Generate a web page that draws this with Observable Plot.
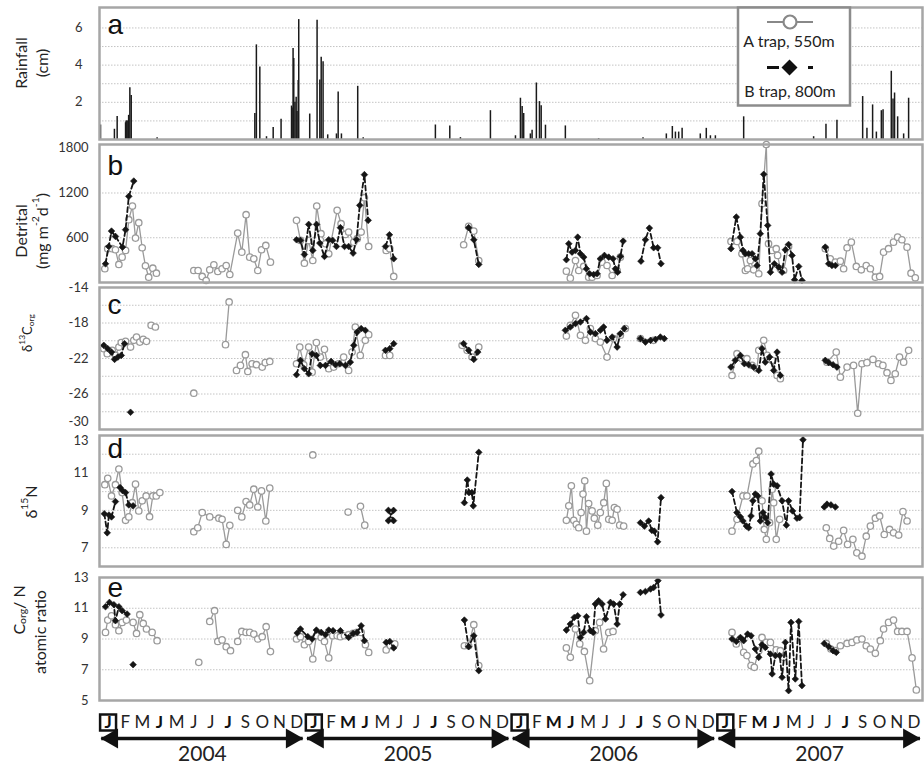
<!DOCTYPE html>
<html><head><meta charset="utf-8">
<script src="https://cdn.jsdelivr.net/npm/d3@7"></script>
<script src="https://cdn.jsdelivr.net/npm/@observablehq/plot@0.6"></script>
<style>
body{margin:0;background:#fff;}
#chart{position:relative;width:924px;height:771px;font-family:Lato,"Open Sans",sans-serif;}
#chart svg{position:absolute;left:0;}
</style></head><body><div id="chart"></div>
<script>
// x values are months since 1 Jan 2004 (0 … 48); null = gap in a series
const rainfall = [
[0.06,0.78],[0.87,0.55],[1.03,1.24],[1.52,0.9],[1.55,1.0],[1.60,1.0],[1.66,1.0],[1.70,1.3],[1.77,2.78],[1.85,2.37],[3.36,0.1],
[9.06,1.4],[9.15,5.09],[9.35,3.9],[9.74,0.15],[10.13,0.64],[10.59,1.09],[11.2,1.8],[11.23,1.7],[11.29,4.9],[11.33,4.36],[11.4,2.0],[11.47,2.27],[11.52,1.5],[11.59,3.18],[11.62,6.45],
[12.26,1.37],[12.69,6.42],[12.85,3.2],[12.93,4.42],[13.04,4.18],[13.31,0.25],[13.82,0.3],[13.92,2.55],[14.11,0.3],[15.06,2.86],[15.38,0.1],
[19.59,0.78],[20.43,0.73],[21.05,0.1],[22.80,1.55],[24.26,0.2],[24.55,2.22],[24.65,1.77],[24.74,1.4],[25.13,0.3],[25.23,0.5],[25.48,3.04],[25.66,2.04],[25.76,1.82],[26.01,0.77],[27.17,0.73],
[29.11,0.05],[31.70,0.1],[33.06,0.3],[33.41,0.7],[33.59,0.4],[33.78,0.4],[33.98,0.6],[35.04,0.3],[35.39,0.6],[35.63,0.2],[35.92,0.2],
[37.57,1.22],[41.65,0.15],[42.37,0.82],[43.01,1.04],[44.51,2.31],[44.76,0.6],[45.09,1.86],[45.31,0.4],[45.60,1.55],[45.70,1.6],[46.18,3.67],[46.28,2.18],[46.37,2.5],[46.55,1.22],[46.90,0.3],[47.19,2.22]
];

const detritalA = [
[0.31,184],[0.48,453],[0.74,453],[0.93,439],[1.13,242],[1.32,340],[1.52,430],[1.71,842],[1.92,1025],[2.10,595],[2.29,802],[2.49,466],[2.68,224],[2.87,71],[3.11,192],[3.32,125],null,
[5.50,161],[5.75,161],[5.99,81],[6.22,27],[6.43,170],[6.67,238],[6.90,148],[7.15,184],[7.39,228],[7.60,107],[8.06,662],[8.30,407],[8.55,909],[8.76,340],[9.00,318],[9.23,161],[9.45,439],[9.70,497],[9.97,273],null,
[11.49,833],[11.72,564],[11.95,259],[12.20,564],[12.44,295],[12.67,1025],[12.92,654],[13.18,520],[13.37,385],[13.86,967],[14.09,788],[14.34,645],[14.53,676],[14.83,541],[15.03,587],[15.26,676],[15.45,1137],[15.70,483],null,
[16.72,430],[16.93,453],[17.16,81],null,
[21.24,506],[21.53,752],[21.83,689],[22.12,295],null,
[27.23,152],[27.46,58],[27.76,295],[27.95,161],[28.24,215],[28.53,71],[28.73,71],[29.02,94],[29.31,273],[29.60,228],[29.90,94],[30.19,161],[30.38,340],null,
[36.83,550],[37.18,550],[37.47,385],[37.67,161],[37.80,184],[37.96,295],[38.15,170],[38.45,117],[38.64,1057],[38.89,1850],[39.02,520],[39.22,430],[39.47,453],[39.55,363],[39.71,184],[39.90,161],[40.19,483],null,
[42.33,453],[42.62,318],[42.92,273],[43.21,286],[43.40,184],[43.60,466],[43.85,541],[44.14,215],[44.43,170],[44.72,228],[44.96,184],[45.25,71],[45.50,81],[45.73,407],[46.02,453],[46.31,541],[46.55,608],[46.80,573],[47.10,474],[47.33,125],[47.58,63]
];
const detritalB = [
[0.35,251],[0.54,483],[0.70,689],[0.93,618],[1.34,474],[1.52,708],[1.71,1155],[2.00,1360],null,
[11.49,573],[11.72,564],[11.95,376],[12.20,779],[12.44,430],[12.66,779],[12.85,528],[13.12,349],[13.37,573],[13.60,564],[13.82,483],[14.05,735],[14.29,483],[14.53,483],[14.79,394],[14.99,577],[15.18,1034],[15.45,1446],[15.67,833],null,
[16.68,483],[16.91,640],[17.16,318],null,
[21.53,735],[21.83,573],[22.12,242],null,
[27.23,305],[27.37,520],[27.56,407],[27.76,430],[27.89,608],[28.05,385],[28.24,340],[28.40,184],[28.59,117],[28.82,107],[29.02,117],[29.21,318],[29.45,363],[29.70,340],[29.95,318],[30.09,184],[30.22,138],[30.38,349],[30.54,555],null,
[31.58,286],[31.84,573],[32.07,729],[32.32,466],[32.55,466],[32.75,251],null,
[36.83,453],[37.14,877],[37.38,608],[37.53,430],[37.67,385],[37.86,385],[38.06,385],[38.25,318],[38.35,228],[38.54,654],[38.74,1450],[38.97,765],[39.13,138],[39.36,251],[39.61,206],[39.81,138],[40.00,439],[40.19,510],[40.39,363],[40.54,36],[40.78,215],[40.97,27],null,
[42.33,474],[42.53,251],[42.72,228],[42.92,228]
];

const d13cA = [
[0.25,-20.89],[0.45,-21.46],[0.74,-21.08],[0.93,-21.65],[1.13,-20.71],[1.27,-20.21],[1.52,-20.07],[1.81,-20.71],[2.0,-19.95],[2.16,-19.58],[2.35,-20.15],[2.55,-19.84],[2.74,-20.07],null,
[3.01,-18.26],[3.26,-18.45],null,[5.50,-25.91],null,[7.35,-20.44],[7.56,-15.63],null,
[7.99,-23.34],[8.22,-22.78],[8.51,-21.57],[8.65,-23.46],[8.90,-22.59],[9.15,-22.70],[9.49,-22.97],[9.67,-22.47],[9.93,-22.33],null,
[11.49,-22.59],[11.68,-20.71],[11.91,-22.70],[12.20,-20.71],[12.40,-23.54],[12.65,-20.21],[12.88,-21.84],[13.12,-20.97],[13.37,-23.15],[13.66,-22.97],[13.95,-22.59],[14.24,-21.84],[14.53,-23.34],[14.73,-21.28],[14.92,-18.45],[15.21,-21.65],[15.50,-19.95],[15.70,-19.31],null,
[16.68,-21.65],[16.93,-21.65],null,
[21.15,-20.52],[21.44,-21.08],[21.73,-21.84],[22.12,-20.71],null,
[27.23,-19.47],[27.46,-18.26],[27.76,-17.13],[28.05,-19.39],[28.34,-19.95],[28.63,-18.63],[28.92,-19.76],[29.21,-20.15],[29.60,-21.84],[29.99,-19.76],[30.38,-19.39],[30.67,-18.63],null,
[31.55,-19.76],[32.32,-19.95],null,
[36.89,-23.91],[37.18,-21.46],[37.47,-22.02],[37.76,-22.02],[38.06,-22.78],[38.35,-23.15],[38.45,-21.08],[38.74,-19.95],[38.94,-21.65],[39.23,-22.21],[39.52,-23.91],[39.71,-24.28],null,
[42.43,-22.41],[42.97,-21.28],[43.21,-24.10],[43.60,-22.97],[43.98,-22.78],[44.22,-28.17],[44.47,-22.59],[44.76,-22.47],[45.11,-22.10],[45.44,-22.59],[45.69,-22.78],[45.93,-23.60],[46.16,-24.47],[46.41,-23.72],[46.66,-21.84],[46.90,-22.41],[47.19,-21.08]
];
const d13cB = [
[0.25,-20.52],[0.48,-20.89],[0.70,-21.28],[0.88,-22.10],[1.07,-21.84],[1.27,-21.65],[1.46,-20.33],null,[1.81,-28.06],null,
[11.49,-23.83],[11.72,-22.21],[11.95,-23.15],[12.20,-23.72],[12.40,-21.46],[12.65,-21.65],[12.88,-22.78],[13.18,-22.78],[13.51,-22.33],[13.76,-22.70],[14.01,-22.59],[14.34,-22.78],[14.63,-22.41],[14.83,-20.52],[15.03,-19.02],[15.26,-18.63],[15.50,-18.82],null,
[16.68,-21.08],[16.93,-20.89],[17.16,-20.33],null,
[21.24,-20.33],[21.53,-21.08],[21.83,-22.10],[22.06,-21.28],null,
[27.17,-18.82],[27.46,-18.45],[27.76,-18.07],[28.05,-17.89],[28.40,-17.50],[28.63,-19.02],[28.92,-19.20],[29.21,-18.82],[29.40,-18.45],[29.60,-19.95],[29.90,-19.58],[30.19,-20.71],[30.38,-19.20],[30.61,-18.63],null,
[31.55,-19.76],[31.84,-20.15],[32.14,-19.95],[32.43,-19.84],[32.71,-19.58],[32.94,-19.76],null,
[36.83,-22.97],[37.08,-22.21],[37.38,-21.65],[37.61,-22.59],[37.86,-22.70],[38.15,-22.97],[38.45,-23.34],[38.64,-20.89],[38.83,-22.41],[39.08,-21.84],[39.32,-23.34],[39.52,-21.28],[39.71,-23.91],null,
[42.33,-22.21],[42.53,-22.47],[42.78,-22.70],[43.01,-22.97]
];

const d15nA = [
[0.31,10.37],[0.48,10.71],[0.70,9.77],[0.93,10.37],[1.13,11.21],[1.32,9.95],[1.52,8.47],[1.71,8.65],[1.91,9.41],[2.10,10.40],[2.29,8.97],[2.49,9.51],[2.72,9.77],[2.92,8.66],[3.11,9.77],[3.31,9.77],[3.52,9.95],null,
[5.50,7.86],[5.73,8.07],[5.99,8.88],[6.43,8.65],[6.96,8.58],[7.15,8.52],[7.39,7.18],[7.60,8.20],null,
[8.06,9.00],[8.30,8.65],[8.55,9.47],[8.76,9.29],[9.00,10.13],[9.23,9.18],[9.45,10.04],[9.70,8.43],[9.93,10.19],null,
[12.44,11.96],null,[14.50,8.91],null,[15.22,9.22],[15.47,8.21],null,
[27.23,8.47],[27.37,9.24],[27.52,10.31],[27.66,8.47],[27.81,8.25],[27.95,8.07],[28.09,8.88],[28.20,9.87],[28.30,10.58],[28.40,7.89],[28.53,9.36],[28.73,8.97],[28.86,8.58],[29.06,8.21],[29.21,8.88],[29.41,9.41],[29.56,10.44],[29.70,8.52],[29.90,8.47],[30.03,9.15],[30.19,9.06],[30.34,8.21],[30.57,8.16],null,
[36.89,7.89],[37.18,8.52],[37.53,9.77],[37.76,9.77],[38.11,11.48],[38.31,11.66],[38.45,12.16],[38.64,9.51],[38.77,7.98],[38.89,7.45],[39.08,8.34],[39.23,10.13],[39.32,9.41],[39.47,7.45],[39.67,8.52],null,
[42.39,8.07],[42.59,7.50],[42.82,7.09],[43.11,7.35],[43.40,7.93],[43.63,7.18],[43.94,7.45],[44.17,6.73],[44.47,6.55],[44.72,7.62],[44.96,8.16],[45.25,8.58],[45.50,8.70],[45.77,7.71],[46.08,7.98],[46.31,7.80],[46.61,7.68],[46.86,8.93],[47.10,8.43]
];
const d15nB = [
[0.28,8.82],[0.45,7.80],[0.55,8.75],[0.70,8.65],[0.93,9.47],null,[1.20,10.22],[1.35,10.05],[1.52,9.95],[1.71,9.29],[1.96,9.24],null,
[16.85,9.0],[17.15,8.45],[16.85,8.45],[17.15,9.0],null,
[21.28,9.41],[21.45,10.62],[21.55,9.95],[21.72,9.95],[21.80,9.24],[22.12,12.10],null,
[31.55,8.34],[31.78,8.16],[32.03,8.43],[32.22,7.93],[32.36,7.89],[32.55,7.32],[32.75,9.68],null,
[36.89,10.01],[37.18,8.88],[37.38,8.65],[37.53,8.43],[37.73,8.16],[37.86,8.07],[38.00,8.70],[38.11,9.51],[38.25,9.87],[38.39,9.77],[38.54,8.43],[38.70,8.88],[38.83,8.61],[38.97,8.34],[39.17,10.94],[39.32,10.40],[39.52,10.31],[39.81,9.51],[40.06,8.21],[40.19,9.51],[40.42,8.97],[40.68,8.58],[40.83,8.61],[41.03,12.77],null,
[42.27,9.18],[42.43,9.33],[42.66,9.29],[42.92,9.18]
];

const cnA = [
[0.35,9.43],[0.48,10.23],[0.70,10.51],[0.93,9.93],[1.13,9.54],[1.32,10.08],[1.57,10.23],[1.96,10.08],[2.16,9.36],[2.35,10.58],[2.55,10.01],[2.74,9.65],[3.07,9.43],[3.36,8.89],null,
[5.79,7.48],null,
[6.43,10.14],[6.71,10.84],[6.90,8.84],[7.15,8.94],[7.39,8.50],[7.64,8.24],null,
[8.06,8.84],[8.30,9.49],[8.55,9.43],[8.76,9.43],[9.00,9.32],[9.23,9.0],[9.49,9.15],[9.72,9.80],[9.97,8.18],null,
[11.49,9.0],[11.72,9.15],[11.95,8.63],[12.20,8.84],[12.44,7.70],[12.65,9.21],[12.93,9.10],[13.12,8.84],[13.37,7.77],[13.60,9.21],[13.86,9.21],[14.05,9.15],[14.29,9.21],[14.53,9.28],[14.79,9.36],[15.02,9.43],[15.26,9.43],[15.51,8.63],[15.70,8.13],null,
[16.72,8.29],[16.97,8.56],[17.22,8.68],null,
[21.28,8.56],[21.53,8.56],[21.83,9.93],[22.12,7.27],null,
[27.23,8.42],[27.46,7.81],[27.76,9.65],[28.01,8.68],[28.28,8.19],[28.59,6.29],[28.92,9.54],[29.17,10.08],[29.40,8.35],[29.70,9.43],[29.95,9.49],null,
[36.89,9.43],[37.14,8.68],[37.38,9.0],[37.57,8.13],[37.76,7.92],[38.00,7.27],[38.19,7.16],[38.45,8.24],[38.64,9.10],[38.89,8.78],[39.13,8.78],[39.47,8.29],[39.71,8.24],[39.90,7.81],null,
[42.39,8.71],[42.66,8.35],[42.92,8.24],[43.21,8.56],[43.60,8.71],[43.89,8.78],[44.17,8.94],[44.47,9.0],[44.72,8.56],[44.96,8.35],[45.25,8.07],[45.54,8.89],[45.73,9.65],[46.02,10.08],[46.31,10.23],[46.55,9.49],[46.80,9.49],[47.10,9.49],[47.39,7.77],[47.64,5.69]
];
const cnB = [
[0.35,11.10],[0.58,11.38],[0.84,11.23],[0.93,10.19],[1.13,11.10],[1.32,10.84],[1.61,10.62],null,[1.96,7.33],null,
[11.53,9.39],[11.72,9.65],[12.15,9.15],[12.40,9.0],[12.65,9.58],[12.93,9.43],[13.18,9.28],[13.37,9.58],[13.62,9.54],[14.05,9.54],[14.53,9.10],[14.79,9.36],[15.02,9.43],[15.26,9.86],[15.45,8.89],null,
[16.72,8.78],[16.93,8.84],[17.16,8.42],null,
[21.28,10.23],[21.53,8.50],[21.83,9.21],[22.12,6.94],null,
[27.23,9.58],[27.46,9.97],[27.69,10.40],[27.89,10.51],[28.05,9.10],[28.24,9.43],[28.40,10.45],[28.63,9.54],[28.79,9.43],[28.92,11.27],[29.11,11.49],[29.31,11.27],[29.51,10.30],[29.80,11.38],[29.99,11.27],[30.19,9.97],[30.34,11.27],[30.54,11.88],null,
[31.55,12.03],[31.84,12.09],[32.14,12.25],[32.32,12.35],[32.57,12.79],[32.75,10.56],null,
[36.89,9.0],[37.14,8.84],[37.38,9.10],[37.57,8.89],[37.80,9.32],[38.0,9.21],[38.25,8.35],[38.45,7.81],[38.64,8.63],[38.83,8.45],[39.13,8.02],[39.23,6.73],[39.42,7.92],[39.67,7.92],[39.81,6.51],[40.0,8.78],[40.19,5.64],[40.33,10.08],[40.58,6.40],[40.78,10.14],[40.97,5.97],null,
[42.27,8.71],[42.53,8.50],[42.78,8.24],[42.97,8.13]
];

const monthLetters = ["J","F","M","J","M","J","J","J","S","O","N","D"];
const years = [2004, 2005, 2006, 2007];

// ---------- build ----------
const toObj = a => a.map(p => p ? {m: p[0], v: p[1]} : {m: null, v: null});
const chart = document.getElementById("chart");
const baseStyle = {background: "transparent", overflow: "visible", fontFamily: "Lato, 'Open Sans', sans-serif"};
const plain = d => String(d);

function seriesMarks(A, B) {
  const a = toObj(A), b = toObj(B);
  return [
    Plot.line(a, {x: "m", y: "v", stroke: "#9a9a9a", strokeWidth: 1.3}),
    Plot.dot(a.filter(d => d.m != null), {x: "m", y: "v", r: 3.2, stroke: "#9a9a9a", strokeWidth: 1.3, fill: "white"}),
    Plot.line(b, {x: "m", y: "v", stroke: "#151515", strokeWidth: 1.8, strokeDasharray: "5,3"}),
    Plot.dot(b.filter(d => d.m != null), {x: "m", y: "v", symbol: "diamond2", r: 3, fill: "#151515", stroke: "#151515", strokeWidth: 0.6})
  ];
}

// tickGroups: [[values, dy], ...] so edge labels can be nudged off the neighbouring panel
function panel(cfg) {
  const {top, areaTop, areaBottom, domain, tickGroups, grid, letter, letterDy, tickPadding = 11, marks} = cfg;
  const svg = Plot.plot({
    width: 924, height: areaBottom + 2 - top,
    marginLeft: 99, marginRight: 2, marginTop: areaTop - top, marginBottom: 2,
    style: baseStyle,
    x: {domain: [0, 48], axis: null},
    y: {domain},
    marks: [
      Plot.ruleY(grid, {stroke: "#c4c4c4", strokeDasharray: "1.5,1.5", strokeWidth: 1}),
      ...tickGroups.map(([vals, dy]) => Plot.axisY(vals, {tickSize: 0, tickPadding, fontSize: 13, fill: "#333", label: null, tickFormat: plain, dy})),
      ...marks,
      Plot.text([letter], {text: d => d, frameAnchor: "top-left", lineAnchor: "top", textAnchor: "start", dx: 8, dy: letterDy, fontSize: 28, fontFamily: "'Liberation Sans', Arial, sans-serif", fill: "#111"}),
      Plot.frame({stroke: "#a6a6a6", strokeWidth: 2.5})
    ]
  });
  svg.style.top = top + "px";
  chart.appendChild(svg);
}

panel({top: 0, areaTop: 7, areaBottom: 139, domain: [0, 7.1], tickGroups: [[[2, 4, 6], 0]], grid: [1, 2, 3, 4, 5, 6], letter: "a", letterDy: 7, tickPadding: 17,
  marks: [Plot.ruleX(toObj(rainfall), {x: "m", y1: 0, y2: "v", stroke: "#1a1a1a", strokeWidth: 1.5})]});
panel({top: 141, areaTop: 144, areaBottom: 282, domain: [0, 1850], tickGroups: [[[600, 1200, 1800], 0]], grid: [600, 1200], letter: "b", letterDy: 11,
  marks: seriesMarks(detritalA, detritalB)});
panel({top: 284, areaTop: 287, areaBottom: 429, domain: [-30, -14], tickGroups: [[[-26, -22, -18, -14], 0], [[-30], -8]], grid: [-28, -26, -24, -22, -20, -18, -16], letter: "c", letterDy: 7,
  marks: seriesMarks(d13cA, d13cB)});
panel({top: 431, areaTop: 435, areaBottom: 566, domain: [6, 13], tickGroups: [[[7, 9, 11], 0], [[13], 5]], grid: [7, 8, 9, 10, 11, 12], letter: "d", letterDy: 3,
  marks: seriesMarks(d15nA, d15nB)});
panel({top: 568, areaTop: 577, areaBottom: 700, domain: [5, 13], tickGroups: [[[5, 7, 9, 11, 13], 0]], grid: [7, 9, 11], letter: "e", letterDy: 0,
  marks: seriesMarks(cnA, cnB)});

// ---------- month / year axis ----------
const monthTicks = years.flatMap((y, i) => monthLetters.map((t, j) => ({
  m: i * 12 + j + 0.5, t, jan: j === 0, bold: j === 0 || j === 3 || j === 7 || (j === 2 && i > 0)
})));
const yearSpans = years.map((y, i) => ({year: String(y), start: i * 12 + 0.1, end: i * 12 + 11.85, mid: i * 12 + 6}));
const rowY = {y: () => "months"};
const axisSvg = Plot.plot({
  width: 924, height: 69, marginLeft: 99, marginRight: 2, marginTop: 0, marginBottom: 0,
  style: baseStyle,
  x: {domain: [0, 48], axis: null},
  y: {type: "point", domain: ["months", "arrows", "years"], range: [12, 60], axis: null},
  marks: [
    Plot.dot(monthTicks.filter(d => d.jan), {x: "m", ...rowY, symbol: "square", r: 9, stroke: "#111", strokeWidth: 2.5, fill: "none"}),
    Plot.text(monthTicks.filter(d => !d.bold), {x: "m", ...rowY, text: "t", fontSize: 17, fill: "#222", lineAnchor: "middle"}),
    Plot.text(monthTicks.filter(d => d.bold), {x: "m", ...rowY, text: "t", fontSize: 17, fontWeight: "bold", fill: "#111", lineAnchor: "middle"}),
    Plot.link(yearSpans, {x1: "start", x2: "end", y1: () => "arrows", y2: () => "arrows", stroke: "#111", strokeWidth: 3.5}),
    Plot.dot(yearSpans, {x: "end", y: () => "arrows", symbol: "triangle", r: 7.5, rotate: 90, dx: -11, fill: "#111", stroke: "none"}),
    Plot.dot(yearSpans, {x: "start", y: () => "arrows", symbol: "triangle", r: 7.5, rotate: -90, dx: 11, fill: "#111", stroke: "none"}),
    Plot.text(yearSpans, {x: "mid", y: () => "years", text: "year", fontSize: 21, fill: "#222", lineAnchor: "middle"})
  ]
});
axisSvg.style.top = "702px";
chart.appendChild(axisSvg);

// ---------- titles and legend overlay ----------
const ov = d3.select(chart).append("svg").attr("width", 924).attr("height", 771)
  .style("top", "0px").style("pointer-events", "none")
  .style("font-family", "Lato, 'Open Sans', sans-serif");

function vlabel(x, y, size, parts) {
  const t = ov.append("text").attr("transform", `translate(${x},${y}) rotate(-90)`)
    .attr("text-anchor", "middle").attr("dominant-baseline", "central")
    .attr("font-size", size).attr("fill", "#222");
  let off = 0;
  for (const [s, kind] of parts) {
    const target = kind === "sup" ? -size * 0.38 : kind === "sub" ? size * 0.28 : 0;
    const ts = t.append("tspan").attr("dy", target - off).text(s);
    if (kind) ts.attr("font-size", size * 0.65);
    off = target;
  }
}
vlabel(20, 63, 16, [["Rainfall"]]);
vlabel(41, 63, 16, [["(cm)"]]);
vlabel(20, 231, 16, [["Detrital"]]);
vlabel(41, 231, 16, [["(mg m"], ["-2", "sup"], ["d"], ["-1", "sup"], [")"]]);
vlabel(27, 333, 13, [["δ"], ["13", "sup"], ["C"], ["org", "sub"]]);
vlabel(30, 502, 16, [["δ"], ["15", "sup"], ["N"]]);
vlabel(18, 610, 16, [["C"], ["org", "sub"], ["/ N"]]);
vlabel(39, 632, 16, [["atomic ratio"]]);

const lg = ov.append("g");
lg.append("rect").attr("x", 738).attr("y", 7.5).attr("width", 112).attr("height", 98)
  .attr("fill", "white").attr("stroke", "#8c8c8c").attr("stroke-width", 2.5);
lg.append("line").attr("x1", 767).attr("x2", 813).attr("y1", 22).attr("y2", 22).attr("stroke", "#888").attr("stroke-width", 2.2);
lg.append("circle").attr("cx", 790).attr("cy", 22).attr("r", 6.5).attr("fill", "white").attr("stroke", "#888").attr("stroke-width", 2.2);
lg.append("text").attr("x", 789).attr("y", 47).attr("text-anchor", "middle").attr("font-size", 16).attr("fill", "#222").text("A trap, 550m");
lg.append("line").attr("x1", 767).attr("x2", 779).attr("y1", 67.5).attr("y2", 67.5).attr("stroke", "#111").attr("stroke-width", 3);
lg.append("line").attr("x1", 808).attr("x2", 813).attr("y1", 67.5).attr("y2", 67.5).attr("stroke", "#111").attr("stroke-width", 3);
lg.append("path").attr("d", "M789.5,59.5 L797.5,67.5 L789.5,75.5 L781.5,67.5 Z").attr("fill", "#111");
lg.append("text").attr("x", 790).attr("y", 97).attr("text-anchor", "middle").attr("font-size", 16).attr("fill", "#222").text("B trap, 800m");
</script>
</body></html>
